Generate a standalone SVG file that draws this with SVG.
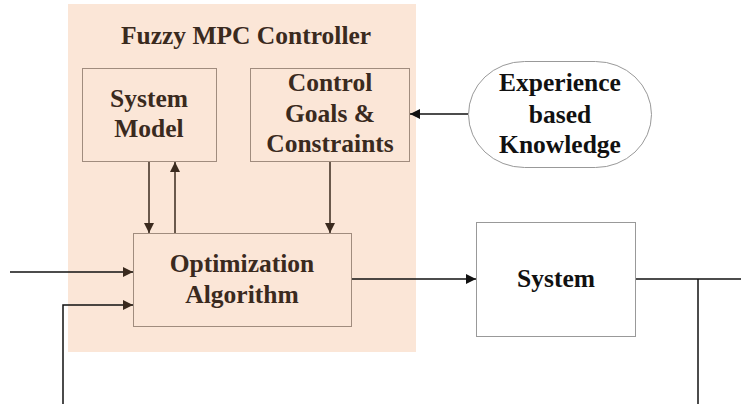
<svg xmlns="http://www.w3.org/2000/svg" width="741" height="404" viewBox="0 0 741 404">
<style>
.t{font-family:"Liberation Serif","Times New Roman",serif;font-weight:bold;font-size:25.5px;text-anchor:middle;fill:#3a2a1e}
.k{fill:#111}
.box{fill:none;stroke:#a08c7e;stroke-width:1}
.ln{fill:none;stroke:#3a2a1e;stroke-width:1.5}
.lk{fill:none;stroke:#111;stroke-width:1.5}
</style>
<defs>
<marker id="a" viewBox="0 0 10 10" refX="10" refY="5" markerWidth="10" markerHeight="10" markerUnits="userSpaceOnUse" orient="auto"><path d="M0,0L10,5L0,10z" fill="#3a2a1e"/></marker>
<marker id="b" viewBox="0 0 10 10" refX="10" refY="5" markerWidth="10" markerHeight="10" markerUnits="userSpaceOnUse" orient="auto"><path d="M0,0L10,5L0,10z" fill="#111"/></marker>
</defs>
<rect width="741" height="404" fill="#fff"/>
<g id="controller">
<rect x="68" y="4" width="348" height="348" fill="#fbe6d7"/>
<text class="t" x="246" y="44">Fuzzy MPC Controller</text>
</g>
<g id="system-model">
<rect class="box" x="82.5" y="68.5" width="134" height="93"/>
<text class="t" x="149" y="107">System</text>
<text class="t" x="149" y="137">Model</text>
</g>
<g id="control-goals">
<rect class="box" x="250.5" y="68.5" width="159" height="93"/>
<text class="t" x="330" y="91">Control</text>
<text class="t" x="330" y="122">Goals &amp;</text>
<text class="t" x="330" y="152">Constraints</text>
</g>
<g id="optimization">
<rect class="box" x="133.5" y="233.5" width="218" height="93"/>
<text class="t" x="242" y="272">Optimization</text>
<text class="t" x="242" y="303">Algorithm</text>
</g>
<g id="experience">
<rect x="468.5" y="61.5" width="183" height="106" rx="56" ry="53" fill="#fff" stroke="#999"/>
<text class="t k" x="560" y="91">Experience</text>
<text class="t k" x="560" y="123">based</text>
<text class="t k" x="560" y="153">Knowledge</text>
</g>
<g id="system">
<rect x="476.5" y="222.5" width="159" height="114" fill="#fff" stroke="#999"/>
<text class="t k" x="556" y="287">System</text>
</g>
<g id="connectors">
<line class="ln" x1="149" y1="162" x2="149" y2="233" marker-end="url(#a)"/>
<line class="ln" x1="175" y1="233" x2="175" y2="162" marker-end="url(#a)"/>
<line class="ln" x1="330" y1="162" x2="330" y2="233" marker-end="url(#a)"/>
<line class="lk" x1="468" y1="114" x2="410" y2="114" marker-end="url(#b)"/>
<line class="lk" x1="10" y1="272" x2="133" y2="272" marker-end="url(#a)"/>
<polyline class="lk" points="63,404 63,305 133,305" marker-end="url(#a)"/>
<line class="lk" x1="352" y1="279" x2="476" y2="279" marker-end="url(#b)"/>
<line class="lk" x1="636" y1="279" x2="741" y2="279"/>
<line class="lk" x1="698" y1="279" x2="698" y2="404"/>
</g>
</svg>
